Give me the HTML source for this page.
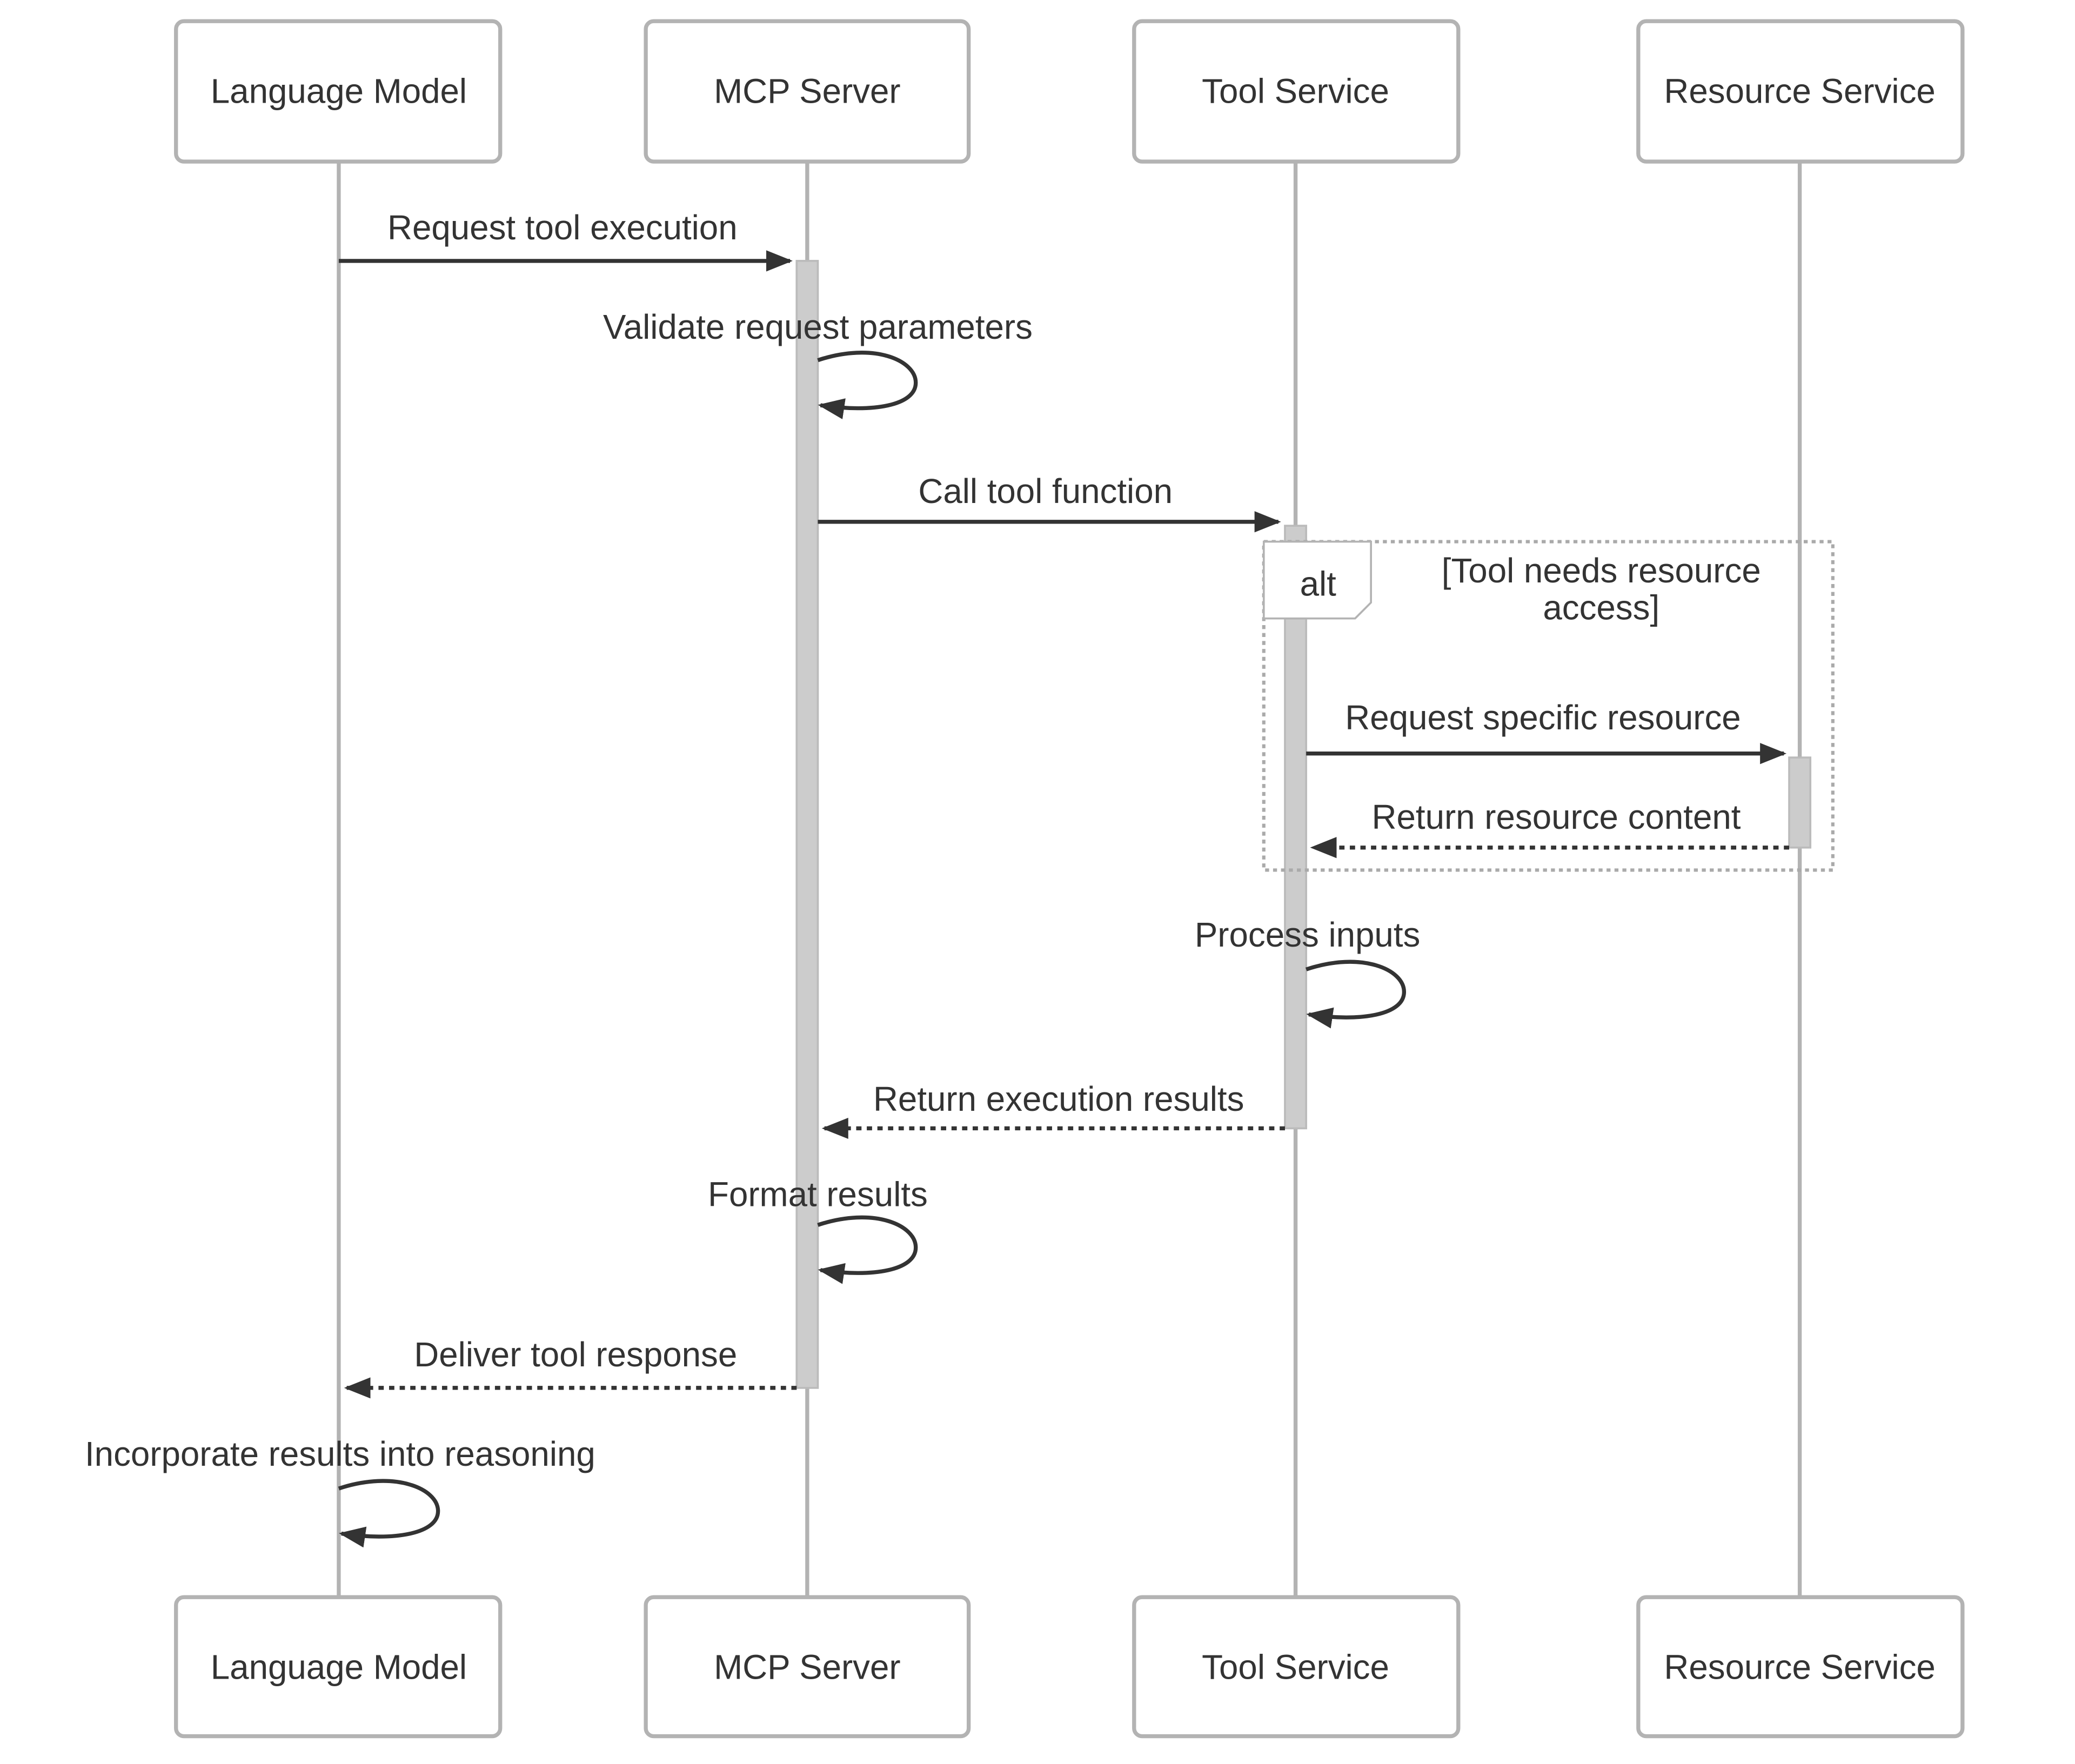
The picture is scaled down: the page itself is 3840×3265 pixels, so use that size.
<!DOCTYPE html>
<html><head><meta charset="utf-8"><style>html,body{margin:0;padding:0;background:#fff}svg{display:block}</style></head>
<body>
<svg width="3840" height="3265" viewBox="0 0 1568 1332" preserveAspectRatio="none" xmlns="http://www.w3.org/2000/svg">
<defs>
<marker id="b" viewBox="0 0 20 20" markerWidth="20" markerHeight="20" refX="18" refY="10" orient="auto" markerUnits="userSpaceOnUse"><path d="M0,2 L20,10 L0,18 Z" fill="#333"/></marker>
</defs>
<style>
text{font-family:"Liberation Sans",Arial,sans-serif;font-size:26px;fill:#333;text-anchor:middle;dominant-baseline:central}
.box{fill:#fff;stroke:#b3b3b3;stroke-width:3}
.life{stroke:#b3b3b3;stroke-width:3}
.act{fill:#ccc;stroke:#bbb;stroke-width:1.5}
.m{stroke:#333;stroke-width:3;fill:none}
.d{stroke:#333;stroke-width:3;fill:none;stroke-dasharray:4 4}
</style>
<line class="life" x1="256" y1="122" x2="256" y2="1206"/>
<line class="life" x1="610" y1="122" x2="610" y2="1206"/>
<line class="life" x1="979" y1="122" x2="979" y2="1206"/>
<line class="life" x1="1360" y1="122" x2="1360" y2="1206"/>
<g>
<rect class="box" x="133" y="16" width="245" height="106" rx="6"/><text x="256" y="69">Language Model</text>
<rect class="box" x="488" y="16" width="244" height="106" rx="6"/><text x="610" y="69">MCP Server</text>
<rect class="box" x="857" y="16" width="245" height="106" rx="6"/><text x="979" y="69">Tool Service</text>
<rect class="box" x="1238" y="16" width="245" height="106" rx="6"/><text x="1360" y="69">Resource Service</text>
<rect class="box" x="133" y="1206" width="245" height="105" rx="6"/><text x="256" y="1259">Language Model</text>
<rect class="box" x="488" y="1206" width="244" height="105" rx="6"/><text x="610" y="1259">MCP Server</text>
<rect class="box" x="857" y="1206" width="245" height="105" rx="6"/><text x="979" y="1259">Tool Service</text>
<rect class="box" x="1238" y="1206" width="245" height="105" rx="6"/><text x="1360" y="1259">Resource Service</text>
</g>
<rect class="act" x="602" y="197" width="16" height="851"/>
<rect class="act" x="971" y="397" width="16" height="455"/>
<rect class="act" x="1352" y="572" width="16" height="68"/>
<rect x="955" y="409" width="430" height="248" fill="none" stroke="#aaa" stroke-width="2.5" stroke-dasharray="3 3"/>
<path d="M955,409 L1036,409 L1036,455 L1024,467 L955,467 Z" fill="#fff" stroke="#b3b3b3" stroke-width="1.5"/>
<text x="996" y="441">alt</text>
<text x="1210" y="431">[Tool needs resource</text>
<text x="1210" y="459">access]</text>

<text x="425" y="172">Request tool execution</text>
<line class="m" x1="256" y1="197" x2="597" y2="197" marker-end="url(#b)"/>
<text x="618" y="247">Validate request parameters</text>
<path class="m" d="M618,272 C660,258 692,272 692,289 C692,306 660,312 620,306" marker-end="url(#b)"/>
<text x="790" y="371">Call tool function</text>
<line class="m" x1="618" y1="394" x2="966" y2="394" marker-end="url(#b)"/>
<text x="1166" y="542">Request specific resource</text>
<line class="m" x1="987" y1="569" x2="1348" y2="569" marker-end="url(#b)"/>
<text x="1176" y="617">Return resource content</text>
<line class="d" x1="1352" y1="640" x2="992" y2="640" marker-end="url(#b)"/>
<text x="988" y="706">Process inputs</text>
<path class="m" d="M987,732 C1029,718 1061,732 1061,749 C1061,766 1029,772 989,766" marker-end="url(#b)"/>
<text x="800" y="830">Return execution results</text>
<line class="d" x1="971" y1="852" x2="623" y2="852" marker-end="url(#b)"/>
<text x="618" y="902">Format results</text>
<path class="m" d="M618,925 C660,911 692,925 692,942 C692,959 660,965 620,959" marker-end="url(#b)"/>
<text x="435" y="1023">Deliver tool response</text>
<line class="d" x1="602" y1="1048" x2="262" y2="1048" marker-end="url(#b)"/>
<text x="257" y="1098">Incorporate results into reasoning</text>
<path class="m" d="M256,1124 C298,1110 331,1124 331,1141 C331,1158 298,1164 258,1158" marker-end="url(#b)"/>
</svg>
</body></html>
